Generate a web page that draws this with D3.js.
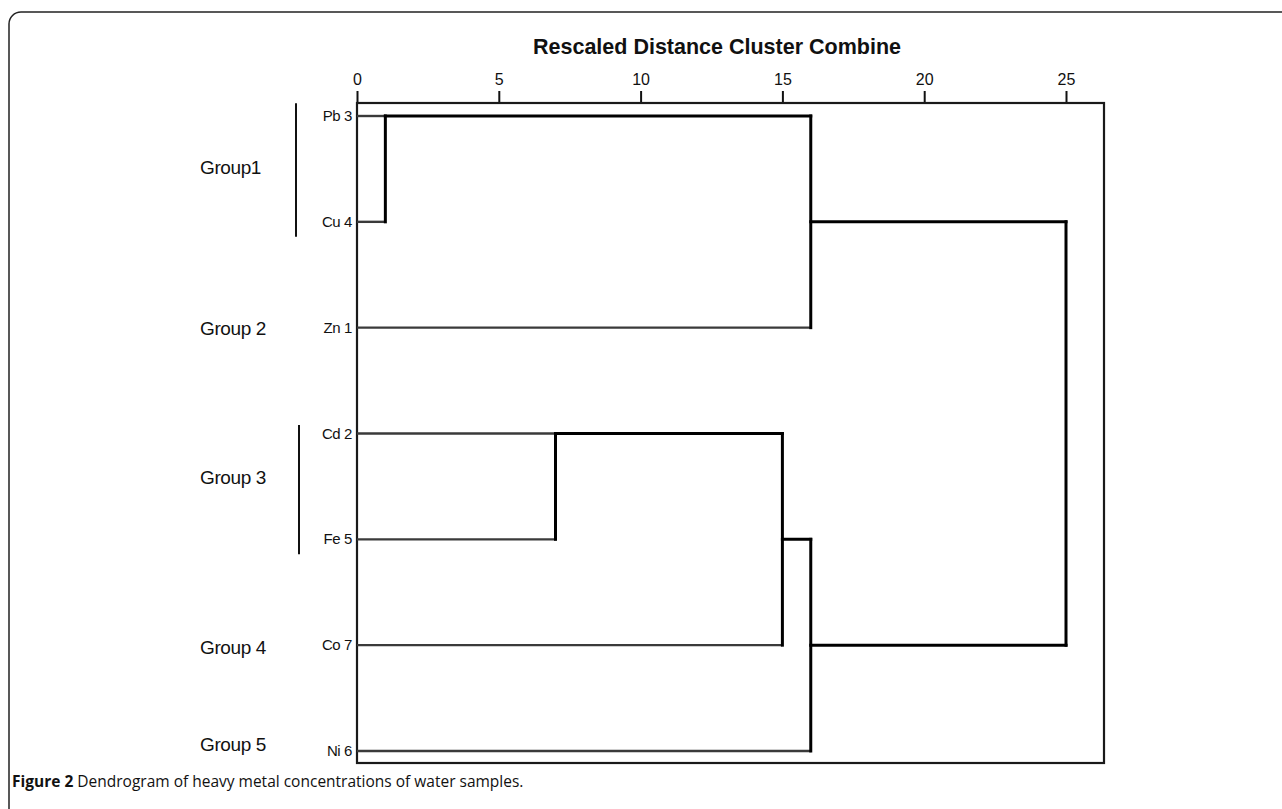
<!DOCTYPE html>
<html>
<head>
<meta charset="utf-8">
<script src="https://cdn.jsdelivr.net/npm/d3@7"></script>
<style>
  html, body { margin: 0; padding: 0; background: #fff; overflow: hidden; }
  svg { display: block; }
</style>
</head>
<body>
<script>
// ---- data ----
const leaves = ["Pb 3", "Cu 4", "Zn 1", "Cd 2", "Fe 5", "Co 7", "Ni 6"];
// agglomeration: node ids 0..6 are leaves, merges create ids 7,8,...
const mergeLeft  = [0, 3, 8, 7, 9, 10];
const mergeRight = [1, 4, 5, 2, 6, 11];
const mergeDist  = [1, 7, 15, 16, 16, 25];
const tickValues = [0, 5, 10, 15, 20, 25];
const axisTitle = "Rescaled Distance Cluster Combine";
const groupNames = ["Group1", "Group 2", "Group 3", "Group 4", "Group 5"];
const groupRow   = [0.48, 2, 3.41, 5.02, 5.93];      // label position in leaf-row units
const groupBars  = [[-0.12, 1.14], null, [2.92, 4.14], null, null];
const captionBold = "Figure 2";
const captionText = " Dendrogram of heavy metal concentrations of water samples.";

// ---- layout ----
const W = 1282, H = 809;
const svg = d3.select("body").append("svg").attr("width", W).attr("height", H);

// outer rounded frame (runs off right and bottom)
svg.append("rect")
  .attr("x", 9).attr("y", 12).attr("width", 1400).attr("height", 900)
  .attr("rx", 12).attr("ry", 12)
  .attr("fill", "none").attr("stroke", "#222").attr("stroke-width", 1.5);

const x = d3.scaleLinear().domain([0, 25]).range([357, 1066]);
const y = d3.scaleLinear().domain([0, leaves.length - 1]).range([116, 751]);
const box = { x0: 357, x1: 1104, y0: 103, y1: 763 };

// title
svg.append("text")
  .attr("x", 717).attr("y", 54)
  .attr("text-anchor", "middle")
  .attr("font-family", "Liberation Sans, Arial, sans-serif")
  .attr("font-weight", "bold").attr("font-size", 21.5)
  .attr("fill", "#111")
  .text(axisTitle);

// axis (ticks above)
const axis = d3.axisTop(x).tickValues(tickValues).tickSize(12).tickPadding(6).tickFormat(d3.format("d"));
const gAxis = svg.append("g").attr("transform", `translate(0,${box.y0})`).call(axis);
gAxis.select(".domain").remove();
gAxis.selectAll(".tick line").attr("stroke", "#111").attr("stroke-width", 2);
gAxis.selectAll(".tick text")
  .attr("font-family", "Liberation Sans, Arial, sans-serif")
  .attr("font-size", 16).attr("fill", "#111");

// plot box
svg.append("rect")
  .attr("x", box.x0).attr("y", box.y0)
  .attr("width", box.x1 - box.x0).attr("height", box.y1 - box.y0)
  .attr("fill", "none").attr("stroke", "#1a1a1a").attr("stroke-width", 2.2);

// compute node positions
const nodeRow = leaves.map((d, i) => i);
mergeLeft.forEach((a, k) => {
  const b = mergeRight[k];
  nodeRow.push(Math.floor((nodeRow[a] + nodeRow[b]) / 2));
});

const parentDist = new Array(nodeRow.length).fill(null);
mergeLeft.forEach((a, k) => { parentDist[a] = mergeDist[k]; parentDist[mergeRight[k]] = mergeDist[k]; });

const gLines = svg.append("g");
// leaf lines (drawn to their first merge)
leaves.forEach((name, i) => {
  gLines.append("line")
    .attr("x1", x(0)).attr("x2", x(parentDist[i]))
    .attr("y1", y(i)).attr("y2", y(i))
    .attr("stroke", "#3a3a3a").attr("stroke-width", 2.4);
});
// merge connectors
mergeLeft.forEach((a, k) => {
  const b = mergeRight[k];
  const xd = x(mergeDist[k]);
  const id = leaves.length + k;
  gLines.append("line")
    .attr("x1", xd).attr("x2", xd)
    .attr("y1", y(nodeRow[a])).attr("y2", y(nodeRow[b]))
    .attr("stroke", "#000").attr("stroke-width", 3).attr("stroke-linecap", "square");
  if (parentDist[id] !== null) {
    gLines.append("line")
      .attr("x1", xd).attr("x2", x(parentDist[id]))
      .attr("y1", y(nodeRow[id])).attr("y2", y(nodeRow[id]))
      .attr("stroke", "#000").attr("stroke-width", 3).attr("stroke-linecap", "square");
  }
});

// leaf labels
svg.append("g").selectAll("text").data(leaves).join("text")
  .attr("x", 352).attr("y", (d, i) => y(i) + 5)
  .attr("text-anchor", "end")
  .attr("font-family", "Liberation Sans, Arial, sans-serif")
  .attr("font-size", 15).attr("fill", "#111")
  .attr("letter-spacing", -0.4)
  .text(d => d);

// group labels
svg.append("g").selectAll("text").data(groupNames).join("text")
  .attr("x", 200).attr("y", (d, i) => y(groupRow[i]) + 7)
  .attr("font-family", "Liberation Sans, Arial, sans-serif")
  .attr("font-size", 19).attr("fill", "#111")
  .attr("letter-spacing", -0.4)
  .text(d => d);

// group bars
svg.append("g").selectAll("line").data(groupBars.filter(d => d)).join("line")
  .attr("x1", (d, i) => i === 0 ? 296 : 299).attr("x2", (d, i) => i === 0 ? 296 : 299)
  .attr("y1", d => y(d[0])).attr("y2", d => y(d[1]))
  .attr("stroke", "#111").attr("stroke-width", 2);

// caption
const cap = svg.append("text")
  .attr("x", 12).attr("y", 787)
  .attr("font-family", "Open Sans, Noto Sans, sans-serif")
  .attr("font-size", 15.5).attr("fill", "#111");
cap.append("tspan").attr("font-weight", "bold").text(captionBold);
cap.append("tspan").text(captionText);
</script>
</body>
</html>
